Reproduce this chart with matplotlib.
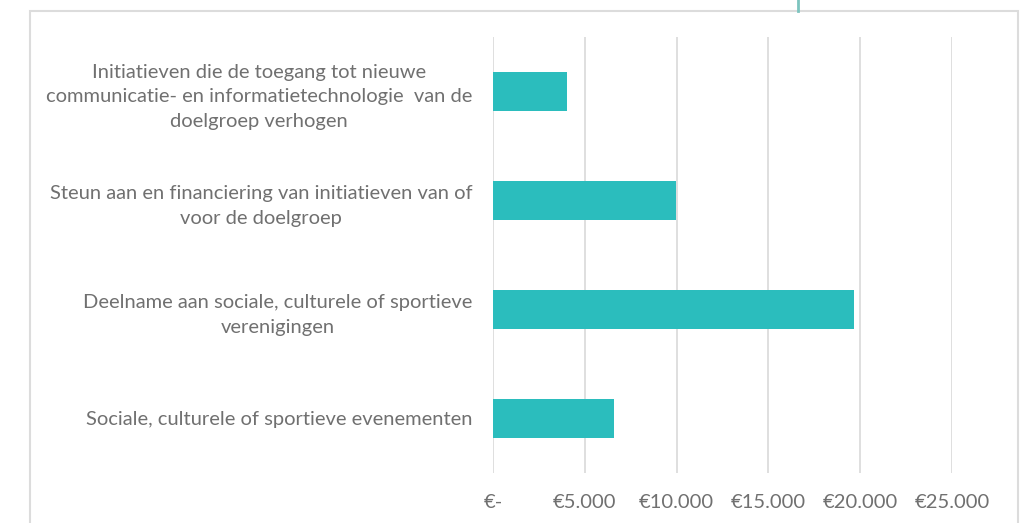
import matplotlib
matplotlib.use("Agg")
import matplotlib.pyplot as plt
from matplotlib.patches import Rectangle
from matplotlib.lines import Line2D

categories = [
    "Initiatieven die de toegang tot nieuwe\ncommunicatie- en informatietechnologie  van de\ndoelgroep verhogen",
    "Steun aan en financiering van initiatieven van of\nvoor de doelgroep",
    "Deelname aan sociale, culturele of sportieve\nverenigingen",
    "Sociale, culturele of sportieve evenementen",
]
values = [4030, 9970, 19650, 6600]
xticks = [0, 5000, 10000, 15000, 20000, 25000]
xtick_labels = ["€-", "€5.000", "€10.000", "€15.000", "€20.000", "€25.000"]

plt.rcParams['font.family'] = ['Lato', 'DejaVu Sans']
text_color = "#707070"
grid_color = "#d9d9d9"
bar_color = "#2bbdbd"

fig = plt.figure(figsize=(10.27, 5.23), dpi=100)
fig.patch.set_facecolor("white")

# outer chart border (extends below the visible area)
W, H = 1027, 523
fig.patches.append(Rectangle((30 / W, -0.05), (1018 - 30) / W, (H - 11) / H + 0.05,
                             transform=fig.transFigure, fill=False,
                             edgecolor="#dcdcdc", linewidth=1.5, zorder=0))
fig.lines.append(Line2D([797.5 / W, 797.5 / W], [1.0, (H - 11) / H],
                        transform=fig.transFigure, color="#7cc4bf", linewidth=2))

ax = fig.add_axes([493 / W, 1 - 473 / H, (952 - 493) / W, (473 - 37) / H])
ypos = list(range(len(categories)))
ax.barh(ypos, values, height=0.36, color=bar_color, zorder=3)
ax.set_ylim(len(categories) - 0.5, -0.5)
ax.set_xlim(0, 25000)

ax.set_xticks(xticks)
ax.set_xticklabels(xtick_labels, color=text_color, fontsize=14.5)
ax.set_yticks(ypos)
ax.set_yticklabels(categories, color=text_color, fontsize=14.5,
                   ha="right", multialignment="center", linespacing=1.57)
ax.tick_params(axis="both", length=0)
ax.tick_params(axis="x", pad=15)
ax.tick_params(axis="y", pad=15)
ax.grid(axis="x", color=grid_color, linewidth=1.2, zorder=0)
for s in ax.spines.values():
    s.set_visible(False)

fig.savefig("out.png", dpi=100, facecolor="white")
